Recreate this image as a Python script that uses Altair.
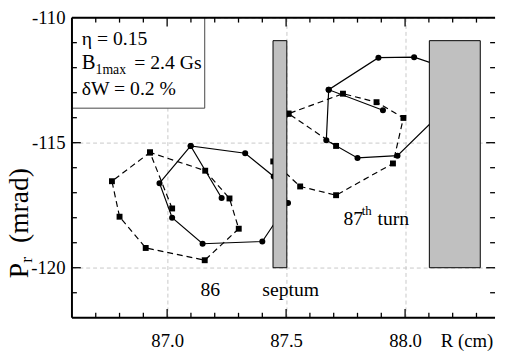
import altair as alt
import pandas as pd

# ---- data ----
solid86_x = [87.229, 87.099, 87.328, 87.448, 87.508, 87.400, 87.149, 87.021, 86.968, 87.099]
solid86_y = [-117.21, -115.13, -115.42, -116.35, -117.41, -118.95, -119.04, -118.00, -116.62, -115.13]
solid87_x = [87.907, 87.679, 87.888, 88.038, 88.200, 88.172, 87.968, 87.800, 87.669, 87.679]
solid87_y = [-113.70, -112.88, -111.60, -111.58, -112.10, -113.62, -115.52, -115.61, -114.90, -112.88]
dash86_x = [87.021, 86.928, 87.160, 87.262, 87.301, 87.158, 86.910, 86.800, 86.768, 86.928]
dash86_y = [-117.63, -115.39, -116.12, -117.23, -118.44, -119.70, -119.21, -117.96, -116.54, -115.39]
dash87_x = [87.710, 87.510, 87.739, 87.880, 87.993, 87.949, 87.710, 87.559, 87.446, 87.510]
dash87_y = [-115.13, -113.84, -113.04, -113.38, -114.01, -115.83, -117.10, -116.75, -115.75, -113.84]

block_x1 = [87.445, 88.102]
block_x2 = [87.503, 88.316]
block_y1 = [-120.0, -120.0]
block_y2 = [-110.92, -110.92]

box_x1, box_x2, box_y1, box_y2 = [86.6], [87.158], [-113.62], [-110.0]

ann_text = ["η = 0.15", "B", "1max", "= 2.4 Gs", "δW = 0.2 %", "86", "septum", "87", "th", "turn"]
ann_x = [86.641, 86.641, 86.699, 86.862, 86.641, 87.140, 87.400, 87.741, 87.818, 87.884]
ann_y = [-111.11, -112.04, -112.25, -112.04, -113.08, -121.12, -121.12, -118.29, -117.89, -118.29]
ann_size = [20, 21, 14, 20, 20, 20, 20, 20, 13, 20]

x_major = [87.0, 87.5, 88.0]
x_minor = [86.7, 86.8, 86.9, 87.1, 87.2, 87.3, 87.4, 87.6, 87.7, 87.8, 87.9, 88.1, 88.2, 88.3]
y_labels = [-110, -115, -120]
y_major = [-120, -115]
y_minor = [-121, -119, -118, -117, -116, -114, -113, -112, -111]

W, H = 430, 305
FONT = "Liberation Serif"

def poly(xs, ys, series, turn):
    return pd.DataFrame({"x": xs, "y": ys, "series": series, "turn": turn, "i": range(len(xs))})

solid = pd.concat([poly(solid86_x, solid86_y, "a", 86), poly(solid87_x, solid87_y, "a", 87)])
dashed = pd.concat([poly(dash86_x, dash86_y, "b", 86), poly(dash87_x, dash87_y, "b", 87)])

xs = alt.Scale(domain=[86.6, 88.378], nice=False, zero=False)
ys = alt.Scale(domain=[-122, -110], nice=False, zero=False)

x_axis = alt.Axis(
    values=x_major, format=".1f", grid=True, gridColor="#c8c8c8", gridDash=[4, 3],
    gridWidth=1, domain=False, ticks=False, tickSize=0, labelPadding=14,
    labelFont=FONT, labelFontSize=19, labelColor="black",
    title="R  (cm)", titleFont=FONT, titleFontSize=19, titleFontWeight="normal",
    titleColor="black", titleX=401, titleY=14, titleBaseline="top", titleAlign="center")
y_axis = alt.Axis(
    values=y_labels, labelExpr="datum.value + ''", grid=True, gridColor="#c8c8c8",
    gridDash=[4, 3], gridWidth=1, domain=False, ticks=False, tickSize=0, labelPadding=7,
    labelFont=FONT, labelFontSize=19, labelColor="black", title=None)

def X(f="x"):
    return alt.X(f"{f}:Q", scale=xs, axis=x_axis)

def Y(f="y"):
    return alt.Y(f"{f}:Q", scale=ys, axis=y_axis)

box = alt.Chart(pd.DataFrame({"x": box_x1, "x2": box_x2, "y": box_y1, "y2": box_y2})).mark_rect(
    fill="white", stroke="#444", strokeWidth=1).encode(x=X(), x2="x2:Q", y=Y(), y2="y2:Q")

solid_line = alt.Chart(solid).mark_line(color="black", strokeWidth=1.2).encode(
    x=X(), y=Y(), detail="turn:N", order="i:Q")
solid_pts = alt.Chart(solid).mark_circle(color="black", size=38, opacity=1).encode(x=X(), y=Y())
dash_line = alt.Chart(dashed).mark_line(color="black", strokeWidth=1.2, strokeDash=[6, 4]).encode(
    x=X(), y=Y(), detail="turn:N", order="i:Q")
dash_pts = alt.Chart(dashed).mark_square(color="black", size=36, opacity=1).encode(x=X(), y=Y())

blocks = alt.Chart(pd.DataFrame({"x": block_x1, "x2": block_x2, "y": block_y1, "y2": block_y2})).mark_rect(
    fill="#c0c0c0", stroke="black", strokeWidth=1).encode(x=X(), x2="x2:Q", y=Y(), y2="y2:Q")

ann = alt.Chart(pd.DataFrame({"x": ann_x, "y": ann_y, "t": ann_text, "s": ann_size})).mark_text(
    font=FONT, align="left", baseline="alphabetic", color="black").encode(
    x=X(), y=Y(), text="t:N", size=alt.Size("s:Q", scale=None, legend=None))

# inward ticks
def hticks(vals, length):
    d = pd.DataFrame({"x": vals})
    bot = alt.Chart(d).mark_rule(color="black", strokeWidth=1.3).encode(
        x=X(), y=alt.value(H), y2=alt.value(H - length))
    top = alt.Chart(d).mark_rule(color="black", strokeWidth=1.3).encode(
        x=X(), y=alt.value(0), y2=alt.value(length))
    return [bot, top]

def vticks(vals, length):
    d = pd.DataFrame({"y": vals})
    left = alt.Chart(d).mark_rule(color="black", strokeWidth=1.3).encode(
        y=Y(), x=alt.value(0), x2=alt.value(length))
    right = alt.Chart(d).mark_rule(color="black", strokeWidth=1.3).encode(
        y=Y(), x=alt.value(W), x2=alt.value(W - length))
    return [left, right]

ticks = hticks(x_major, 9) + hticks(x_minor, 5) + vticks(y_major, 9) + vticks(y_minor, 5)

frame_d = pd.DataFrame({"k": [0]})
frame = [
    alt.Chart(frame_d).mark_rule(color="black", strokeWidth=2).encode(
        x=alt.value(0), y=alt.value(0), y2=alt.value(H)),
    alt.Chart(frame_d).mark_rule(color="black", strokeWidth=2).encode(
        x=alt.value(0), x2=alt.value(W), y=alt.value(H)),
    alt.Chart(frame_d).mark_rule(color="black", strokeWidth=2).encode(
        x=alt.value(0), x2=alt.value(W), y=alt.value(0)),
]

# y-axis title with subscript
ytitle = [
    alt.Chart(frame_d).mark_text(font=FONT, fontSize=28, angle=270, align="center",
                                 baseline="middle", color="black", text="P").encode(
        x=alt.value(-53), y=alt.value(257)),
    alt.Chart(frame_d).mark_text(font=FONT, fontSize=18, angle=270, align="center",
                                 baseline="middle", color="black", text="r").encode(
        x=alt.value(-46), y=alt.value(246)),
    alt.Chart(frame_d).mark_text(font=FONT, fontSize=28, angle=270, align="center",
                                 baseline="middle", color="black", text="(mrad)").encode(
        x=alt.value(-53), y=alt.value(191)),
]

chart = alt.layer(
    box, dash_line, solid_line, dash_pts, solid_pts, blocks, ann, *ticks, *frame, *ytitle
).properties(
    width=W, height=H, autosize="none",
    padding={"left": 65, "top": 7, "right": 2, "bottom": 32},
).configure_view(stroke="transparent")

chart.save("out.html", embed_options={"renderer": "svg", "actions": False})
